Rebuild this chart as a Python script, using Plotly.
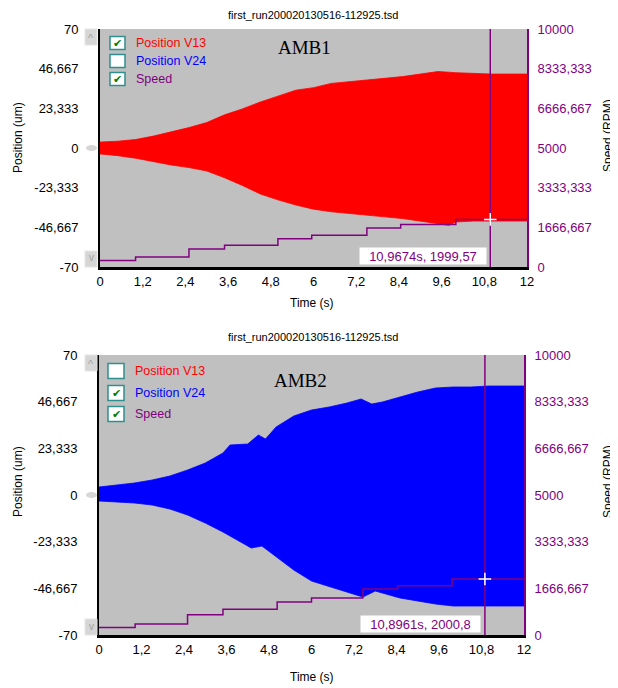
import plotly.graph_objects as go

# ---------------- data ----------------
file_title = "first_run200020130516-112925.tsd"
panel_names = ["AMB1", "AMB2"]
legend_labels = ["Position V13", "Position V24", "Speed"]
legend_checked_1 = [True, False, True]
legend_checked_2 = [False, True, True]

time_ticks = [0, 1.2, 2.4, 3.6, 4.8, 6, 7.2, 8.4, 9.6, 10.8, 12]
time_tick_text = ["0", "1,2", "2,4", "3,6", "4,8", "6", "7,2", "8,4", "9,6", "10,8", "12"]
pos_ticks = [-70, -46.667, -23.333, 0, 23.333, 46.667, 70]
pos_tick_text = ["-70", "-46,667", "-23,333", "0", "23,333", "46,667", "70"]
speed_ticks = [0, 1666.667, 3333.333, 5000, 6666.667, 8333.333, 10000]
speed_tick_text = ["0", "1666,667", "3333,333", "5000", "6666,667", "8333,333", "10000"]

# AMB1 - Position V13 envelope (um)
amb1_t_upper = [0, 0.5, 1.0, 1.5, 2.0, 2.5, 3.0, 3.5, 4.0, 4.5, 5.0, 5.5, 6.0, 6.5, 7.0,
                7.5, 8.0, 8.5, 9.0, 9.5, 10.0, 10.5, 11.0, 11.5, 12.0]
amb1_upper = [3.5, 4, 5, 7, 9.5, 12, 15, 19.5, 23, 27, 30.5, 34, 35.5, 38, 39,
              40, 41, 42, 43.5, 45, 44.3, 43.8, 43.5, 43.5, 43.5]
amb1_t_lower = [0, 0.5, 1.0, 1.5, 2.0, 2.5, 3.0, 3.5, 4.0, 4.5, 5.0, 5.5, 6.0, 6.5, 7.0,
                7.5, 8.0, 8.5, 9.0, 9.5, 9.8, 10.0, 10.5, 11.0, 11.5, 12.0]
amb1_lower = [-3.5, -4.5, -6, -8, -10, -11.5, -13.5, -17.5, -22, -27, -30.5, -33.5, -36, -37.5, -38.5,
              -39.5, -40.5, -41.5, -43, -44.5, -45.5, -43.5, -43, -43, -43, -43]

# AMB2 - Position V24 envelope (um)
amb2_t_upper = [0, 0.5, 1.0, 1.5, 2.0, 2.5, 3.0, 3.5, 3.7, 4.2, 4.5, 4.7, 5.0, 5.5, 6.0, 6.5,
                7.0, 7.4, 7.7, 8.0, 8.5, 9.0, 9.5, 10.0, 10.5, 11.0, 11.5, 12.0]
amb2_upper = [4, 5, 6, 7.5, 9.5, 12.5, 16, 21, 25, 25.5, 30, 28, 34, 39.5, 42.5, 44,
              46, 48, 45.5, 46.5, 49, 51.5, 53.5, 54, 54, 54.5, 54.5, 54.5]
amb2_t_lower = [0, 0.5, 1.0, 1.5, 2.0, 2.5, 3.0, 3.5, 4.0, 4.3, 4.6, 5.0, 5.5, 6.0, 6.5,
                7.0, 7.45, 7.8, 8.0, 8.5, 9.0, 9.5, 10.0, 11.0, 12.0]
amb2_lower = [-3, -3.5, -4, -5, -7, -10, -14, -18.5, -23.5, -26.5, -25.5, -31, -37.5, -43, -46,
              -48.5, -51, -48, -49, -51.5, -53, -54.5, -55.5, -55.5, -55.5]

# Speed (RPM) staircases
speed1_t = [0, 1.0, 2.5, 3.5, 5.0, 5.95, 7.5, 8.45, 10.0, 12.0]
speed1 = [270, 420, 760, 915, 1190, 1330, 1640, 1785, 2000, 2000]
speed2_t = [0, 1.02, 2.5, 3.5, 5.03, 6.0, 7.45, 8.43, 9.97, 12.0]
speed2 = [265, 395, 720, 920, 1175, 1320, 1640, 1760, 2000, 2000]

# cursors (time s, speed RPM)
cursor1 = (10.9674, 1999.57)
cursor2 = (10.8961, 2000.8)

# ---------------- layout helpers ----------------
# the page body has an 8px margin, so the figure is 8px smaller and all
# pixel positions below are page coordinates
OFF = 8
W, H = 618 - OFF, 688 - OFF
L, R, T, B = 99 - OFF, 91, 29 - OFF, 53
PW, PH = W - L - R, H - T - B
FONT = "Liberation Sans, Arial, sans-serif"
PURPLE = "#800080"
GRAY = "#C0C0C0"
SPEED_RANGE = [0, 10000]


def px(x):
    return (x - OFF - L) / PW


def py(y):
    return (H - B - (y - OFF)) / PH


def num(v):
    return str(v).replace(".", ",")


fig = go.Figure()


def add_panel(t_up, up, t_lo, lo, color, sp_t, sp, cursor, xa, ya_pos, ya_sp):
    fig.add_trace(go.Scatter(
        x=t_up + t_lo[::-1], y=up + lo[::-1], fill="toself", fillcolor=color,
        mode="lines", line=dict(color=color, width=0.8), xaxis=xa, yaxis=ya_pos,
        hoverinfo="skip"))
    fig.add_trace(go.Scatter(
        x=sp_t, y=sp, mode="lines", line=dict(color=PURPLE, width=1.5, shape="hv"),
        xaxis=xa, yaxis=ya_sp))
    # cursor line across the full speed range, then the white cross on top
    fig.add_trace(go.Scatter(
        x=[cursor[0], cursor[0]], y=SPEED_RANGE, mode="lines",
        line=dict(color=PURPLE, width=1.5), xaxis=xa, yaxis=ya_sp))
    fig.add_trace(go.Scatter(
        x=[cursor[0]], y=[cursor[1]], mode="markers", xaxis=xa, yaxis=ya_sp,
        marker=dict(symbol="cross-thin", size=9, line=dict(color="white", width=1.5))))


add_panel(amb1_t_upper, amb1_upper, amb1_t_lower, amb1_lower, "#FF0000",
          speed1_t, speed1, cursor1, "x", "y", "y2")
add_panel(amb2_t_upper, amb2_upper, amb2_t_lower, amb2_lower, "#0000FF",
          speed2_t, speed2, cursor2, "x2", "y3", "y4")

tick_font = dict(family=FONT, size=13, color="black")
clear = "rgba(0,0,0,0)"


def xaxis_cfg(domain, anchor):
    return dict(domain=domain, anchor=anchor, range=[0, 12], tickvals=time_ticks,
                ticktext=time_tick_text, showline=True, linecolor="black", linewidth=3,
                ticks="", showgrid=False,
                zeroline=False, tickfont=tick_font, fixedrange=True)


def ypos_cfg(domain, anchor):
    return dict(domain=domain, anchor=anchor, range=[-70, 70], tickvals=pos_ticks,
                ticktext=pos_tick_text, showline=True, linecolor="black", linewidth=2,
                ticks="outside", ticklen=17, tickcolor=clear, showgrid=False,
                zeroline=False, tickfont=tick_font)


def yspeed_cfg(overlay, anchor):
    return dict(overlaying=overlay, anchor=anchor, side="right", range=SPEED_RANGE,
                tickvals=speed_ticks, ticktext=speed_tick_text, showline=True,
                linecolor=PURPLE, linewidth=2, ticks="outside", ticklen=6,
                tickcolor=clear, showgrid=False, zeroline=False,
                tickfont=dict(family=FONT, size=13, color=PURPLE))


annotations = []
shapes = []

panels = [
    dict(top=29, bottom=267, name_x=276, name_y=48,
         rows=[43, 61, 79], box_x=(110, 125), box_h=13, text_x=134,
         checked=legend_checked_1, xref="x", yref="y", cursor=cursor1,
         title_y=15, time_y=303, box_w=126, pos_title_y=138, speed_title_y=136),
    dict(top=355, bottom=635, name_x=272, name_y=380,
         rows=[371, 393, 414], box_x=(108, 124), box_h=15, text_x=133,
         checked=legend_checked_2, xref="x2", yref="y3", cursor=cursor2,
         title_y=337, time_y=677, box_w=119, pos_title_y=482, speed_title_y=482),
]
legend_colors = ["#FF0000", "#0000FF", PURPLE]

for i, p in enumerate(panels):
    annotations.append(dict(text=file_title, x=px(313), y=py(p["title_y"]), xref="paper",
                            yref="paper", showarrow=False, xanchor="center", yanchor="middle",
                            font=dict(family=FONT, size=11, color="black")))
    annotations.append(dict(text="Time (s)", x=px(312), y=py(p["time_y"]), xref="paper",
                            yref="paper", showarrow=False, xanchor="center", yanchor="middle",
                            font=dict(family=FONT, size=12, color="black")))
    annotations.append(dict(text="Position (um)", x=px(18), y=py(p["pos_title_y"]),
                            xref="paper", yref="paper", showarrow=False, textangle=-90,
                            xanchor="center", yanchor="middle",
                            font=dict(family=FONT, size=12, color="black")))
    annotations.append(dict(text="Speed (RPM)", x=px(608), y=py(p["speed_title_y"]),
                            xref="paper", yref="paper", showarrow=False, textangle=-90,
                            xanchor="center", yanchor="middle",
                            font=dict(family=FONT, size=12, color="black")))
    annotations.append(dict(text=panel_names[i], x=px(p["name_x"]), y=py(p["name_y"]),
                            xref="paper", yref="paper", showarrow=False, xanchor="left",
                            yanchor="middle",
                            font=dict(family="Liberation Serif, Times New Roman, serif",
                                      size=19, color="black")))
    for j, yc in enumerate(p["rows"]):
        bx0, bx1 = p["box_x"]
        hh = p["box_h"] / 2
        shapes.append(dict(type="rect", xref="paper", yref="paper", x0=px(bx0), x1=px(bx1),
                           y0=py(yc + hh), y1=py(yc - hh), fillcolor="white",
                           line=dict(color="#2F8F8F", width=1.5), layer="above"))
        if p["checked"][j]:
            annotations.append(dict(text="✔", x=px((bx0 + bx1) / 2), y=py(yc + 0.5),
                                    xref="paper", yref="paper", showarrow=False,
                                    xanchor="center", yanchor="middle",
                                    font=dict(family="DejaVu Sans", size=11, color="#008000")))
        annotations.append(dict(text=legend_labels[j], x=px(p["text_x"]), y=py(yc),
                                xref="paper", yref="paper", showarrow=False, xanchor="left",
                                yanchor="middle",
                                font=dict(family=FONT, size=12.5, color=legend_colors[j])))
    ct, cv = p["cursor"]
    annotations.append(dict(text=f"{num(ct)}s, {num(cv)}", xref=p["xref"],
                            yref=p["yref"] + " domain", x=ct - 0.1, y=0, xanchor="right",
                            yanchor="bottom", yshift=2, showarrow=False, bgcolor="white",
                            width=p["box_w"], height=16, borderpad=0,
                            font=dict(family=FONT, size=13, color=PURPLE)))
    for yb0, yb1 in [(p["top"], p["top"] + 16), (p["bottom"] - 16, p["bottom"])]:
        shapes.append(dict(type="rect", xref="paper", yref="paper", x0=px(85), x1=px(97),
                           y0=py(yb1), y1=py(yb0), fillcolor="#D6D6D6",
                           line=dict(color="#E4E4E4", width=1)))
    ymid = (p["top"] + p["bottom"]) / 2
    shapes.append(dict(type="circle", xref="paper", yref="paper", x0=px(86), x1=px(97),
                       y0=py(ymid + 3), y1=py(ymid - 3), fillcolor="#D6D6D6",
                       line=dict(color="#D6D6D6", width=0)))
    annotations.append(dict(text="^", x=px(91), y=py(p["top"] + 9), xref="paper",
                            yref="paper", showarrow=False, xanchor="center",
                            yanchor="middle", font=dict(family=FONT, size=11, color="#A0A0A0")))
    annotations.append(dict(text="v", x=px(91), y=py(p["bottom"] - 9), xref="paper",
                            yref="paper", showarrow=False, xanchor="center",
                            yanchor="middle", font=dict(family=FONT, size=10, color="#A0A0A0")))

fig.update_layout(
    width=W, height=H,
    margin=dict(l=L, r=R, t=T, b=B, pad=0),
    paper_bgcolor="white", plot_bgcolor=GRAY,
    showlegend=False,
    font=dict(family=FONT, size=12, color="black"),
    xaxis=xaxis_cfg([px(100), 1], "y"),
    yaxis=ypos_cfg([py(267), 1], "x"),
    yaxis2=yspeed_cfg("y", "x"),
    xaxis2=xaxis_cfg([0, px(524)], "y3"),
    yaxis3=ypos_cfg([0, py(355)], "x2"),
    yaxis4=yspeed_cfg("y3", "x2"),
    annotations=annotations,
    shapes=shapes,
)

fig.write_html("out.html")
